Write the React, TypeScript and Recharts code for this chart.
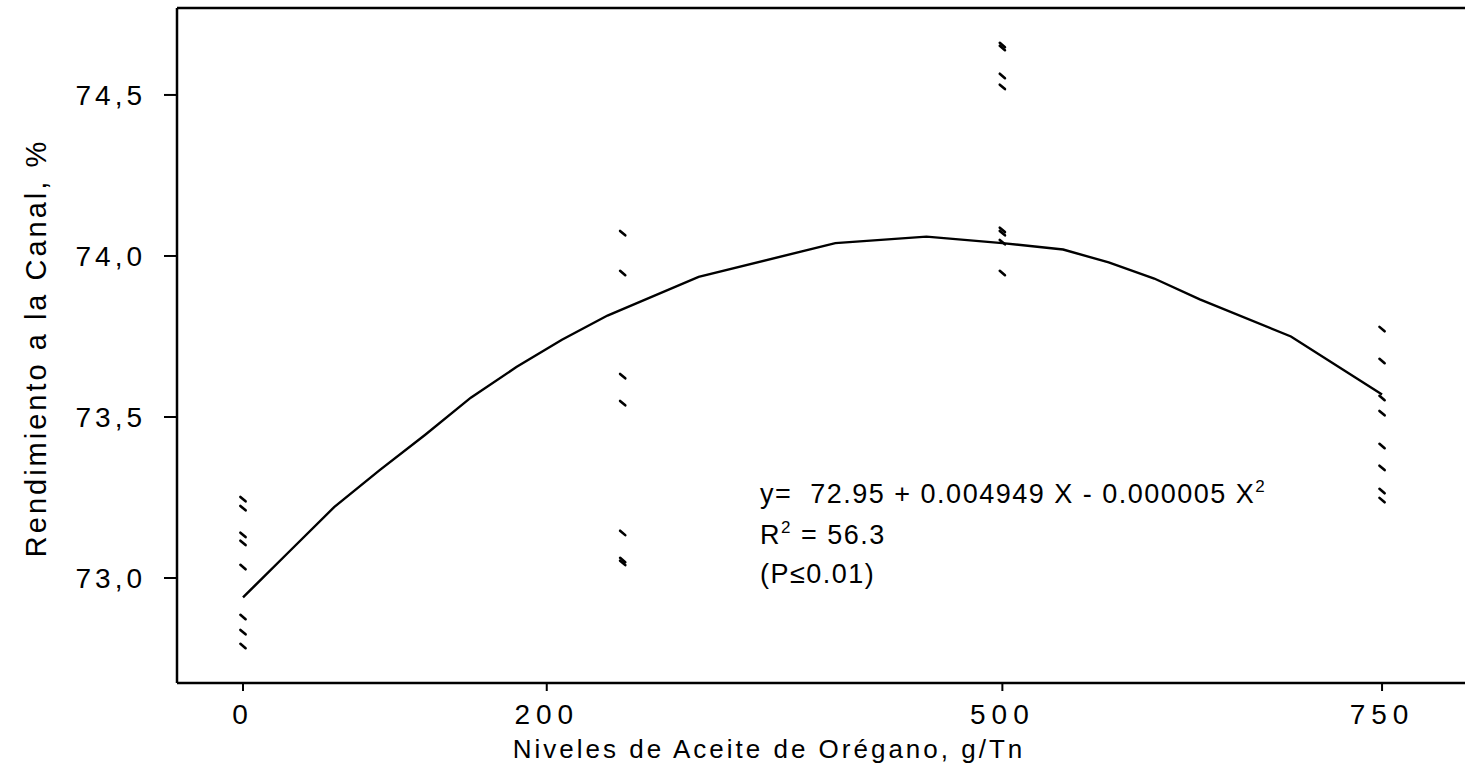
import { ComposedChart, Scatter, Line, XAxis, YAxis, ReferenceLine } from 'recharts';

// oregano oil levels (g/Tn) and carcass yield (%) per animal
const levels = [0, 250, 500, 750];
const yield0 = [73.245, 73.217, 73.134, 73.109, 73.034, 72.879, 72.832, 72.789];
const yield250 = [74.071, 73.947, 73.627, 73.543, 73.14, 73.056, 73.047];
const yield500 = [74.655, 74.646, 74.559, 74.525, 74.081, 74.071, 74.043, 73.947];
const yield750 = [73.773, 73.674, 73.559, 73.512, 73.41, 73.342, 73.27, 73.242];

// fitted quadratic, as plotted
const fitX = [0, 30, 60, 90, 120, 150, 180, 210, 240, 300, 390, 450, 500, 540, 570, 600, 630, 690, 750];
const fitY = [72.94, 73.08, 73.22, 73.335, 73.445, 73.56, 73.655, 73.74, 73.815, 73.935, 74.04, 74.06, 74.04, 74.02, 73.98, 73.93, 73.865, 73.75, 73.57];

const xTicks = [0, 200, 500, 750];
const yTicks = [73.0, 73.5, 74.0, 74.5];

const X_MIN = -43.46;
const X_MAX = 811.2;
const Y_MIN = 72.674;
const Y_MAX = 74.77;

const groups = [yield0, yield250, yield500, yield750];
const points = groups.flatMap((g, i) => g.map((y) => ({ x: levels[i], y })));
const fitData = fitX.map((x, i) => ({ x, y: fitY[i] }));

const FONT = '"Liberation Sans", Arial, sans-serif';

// small slanted tick used as the point marker
const Dash = (props: any) => {
  const { cx, cy } = props;
  if (cx == null || cy == null) return null;
  return <line x1={cx - 2.6} y1={cy - 2.2} x2={cx + 2.6} y2={cy + 2.2} stroke="#000" strokeWidth={2.6} strokeLinecap="round" />;
};

export default function App() {
  return (
    <div
      style={{
        position: 'absolute',
        left: 0,
        top: 0,
        width: 1465,
        height: 775,
        overflow: 'hidden',
        background: '#fff',
        fontFamily: FONT,
      }}
    >
      <ComposedChart width={1475} height={775} margin={{ top: 8, right: 0, bottom: 0, left: 0 }}>
        <XAxis
          type="number"
          dataKey="x"
          domain={[X_MIN, X_MAX]}
          ticks={xTicks}
          allowDataOverflow
          height={92}
          axisLine={{ stroke: '#000', strokeWidth: 2.5 }}
          tickLine={{ stroke: '#000', strokeWidth: 2 }}
          tickSize={8}
          tickMargin={13}
          tick={{ fill: '#000', fontSize: 28, fontFamily: FONT, letterSpacing: 6 }}
        />
        <YAxis
          type="number"
          dataKey="y"
          domain={[Y_MIN, Y_MAX]}
          ticks={yTicks}
          allowDataOverflow
          width={177}
          axisLine={{ stroke: '#000', strokeWidth: 2.5 }}
          tickLine={{ stroke: '#000', strokeWidth: 2 }}
          tickSize={13}
          tickMargin={18}
          tickFormatter={(v: number) => v.toFixed(1).replace('.', ',')}
          tick={{ fill: '#000', fontSize: 28, fontFamily: FONT, letterSpacing: 4 }}
        />
        <ReferenceLine y={Y_MAX} stroke="#000" strokeWidth={2.5} />
        <Line
          data={fitData}
          dataKey="y"
          type="linear"
          stroke="#000"
          strokeWidth={2.4}
          dot={false}
          activeDot={false}
          isAnimationActive={false}
        />
        <Scatter data={points} dataKey="y" shape={Dash} isAnimationActive={false} />
      </ComposedChart>

      <svg
        width={1465}
        height={775}
        style={{ position: 'absolute', left: 0, top: 0, pointerEvents: 'none' }}
        fontFamily={FONT}
        fill="#000"
      >
        <text
          transform="translate(46, 348) rotate(-90)"
          textAnchor="middle"
          fontSize={29}
          letterSpacing={3}
        >
          Rendimiento a la Canal, %
        </text>
        <text x={769} y={758} textAnchor="middle" fontSize={26} letterSpacing={3}>
          Niveles de Aceite de Orégano, g/Tn
        </text>
        <g fontSize={27} letterSpacing={1.5}>
          <text x={760} y={503} style={{ whiteSpace: 'pre' }}>
            y=  72.95 + 0.004949 X - 0.000005 X
            <tspan fontSize={17} dy={-11}>2</tspan>
          </text>
          <text x={760} y={544}>
            R<tspan fontSize={17} dy={-11}>2</tspan>
            <tspan dy={11}> = 56.3</tspan>
          </text>
          <text x={760} y={583}>
            (P≤0.01)
          </text>
        </g>
      </svg>
    </div>
  );
}
